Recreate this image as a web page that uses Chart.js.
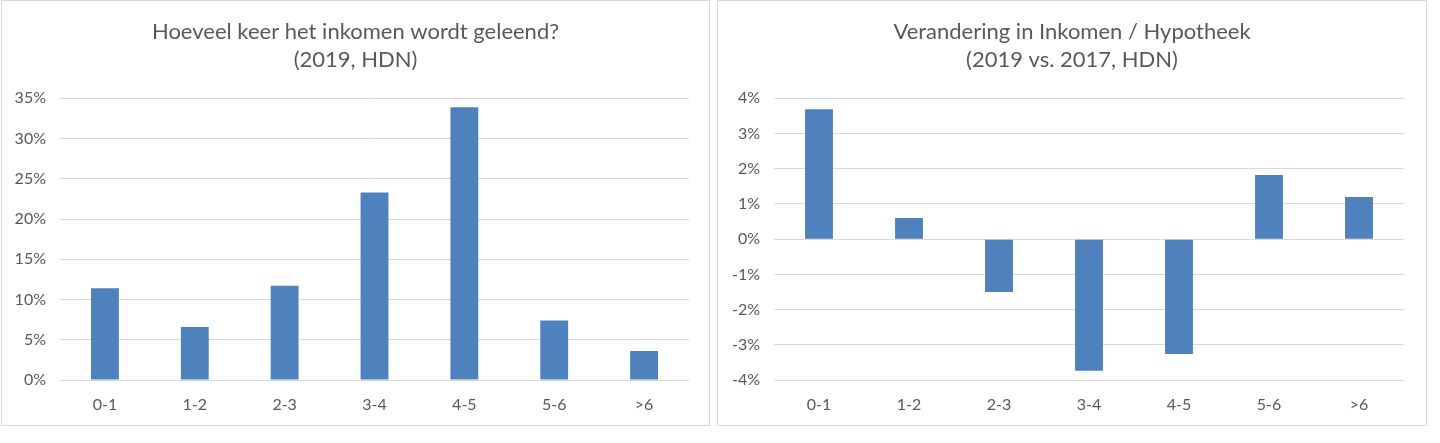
<!DOCTYPE html>
<html>
<head>
<meta charset="utf-8">
<script src="https://cdn.jsdelivr.net/npm/chart.js@4.4.1/dist/chart.umd.min.js"></script>
<style>
  body { margin: 0; background: #fff; width: 1440px; height: 443px; overflow: hidden; }
  .panel { position: absolute; top: 0; height: 424px; border: 1px solid #d9d9d9; background: #fff; }
  #p1 { left: 1px; width: 707px; }
  #p2 { left: 717px; width: 708px; }
  canvas { display: block; }
</style>
</head>
<body>
<div class="panel" id="p1"><canvas id="leenChart" width="707" height="424"></canvas></div>
<div class="panel" id="p2"><canvas id="veranderingChart" width="708" height="424"></canvas></div>
<script>
const categories = ['0-1', '1-2', '2-3', '3-4', '4-5', '5-6', '>6'];
const leenValues = [11.4, 6.6, 11.7, 23.3, 33.9, 7.4, 3.6];
const veranderingValues = [3.69, 0.6, -1.5, -3.74, -3.26, 1.82, 1.2];
const leenTicks = [0, 35, 5];
const veranderingTicks = [-4, 4, 1];

const barColor = '#4f81bd';
const textColor = '#595959';
const gridColor = '#d9d9d9';
const fontFamily = 'Lato, "Open Sans", sans-serif';

Chart.defaults.font.family = fontFamily;
Chart.defaults.color = textColor;

// side padding kept equal so the title sits in the middle of the panel,
// an empty right axis takes up the extra space next to the plot
function makeChart(id, title, values, ticks, axisWidth, rightGap, sidePad) {
  const ctx = document.getElementById(id).getContext('2d');
  return new Chart(ctx, {
    type: 'bar',
    data: {
      labels: categories,
      datasets: [{
        data: values,
        backgroundColor: barColor,
        barPercentage: 0.31,
        categoryPercentage: 1
      }]
    },
    options: {
      responsive: false,
      animation: false,
      layout: { padding: { left: sidePad, right: sidePad, top: 0, bottom: 0 } },
      plugins: {
        legend: { display: false },
        tooltip: { enabled: false },
        title: {
          display: true,
          text: title,
          color: textColor,
          font: { size: 22, weight: 'normal', lineHeight: 1.28 },
          padding: { top: 17, bottom: 24 }
        }
      },
      scales: {
        x: {
          grid: { display: false, drawTicks: false },
          border: { display: false },
          ticks: { font: { size: 16 }, padding: 15, color: textColor },
          afterFit: (scale) => { scale.height = 45; }
        },
        y: {
          min: ticks[0],
          max: ticks[1],
          grid: { color: gridColor, lineWidth: 1, drawTicks: false },
          border: { display: false },
          ticks: {
            stepSize: ticks[2],
            font: { size: 16 },
            padding: 14,
            color: textColor,
            callback: (v) => v + '%'
          },
          afterFit: (scale) => { scale.width = axisWidth; }
        },
        gap: {
          position: 'right',
          min: 0,
          max: 1,
          grid: { display: false, drawTicks: false },
          border: { display: false },
          ticks: { display: false },
          afterFit: (scale) => { scale.width = rightGap; }
        }
      }
    }
  });
}

const leenChart = makeChart('leenChart',
  ['Hoeveel keer het inkomen wordt geleend?', '(2019, HDN)'],
  leenValues, leenTicks, 47.5, 9.5, 10.5);
const veranderingChart = makeChart('veranderingChart',
  ['Verandering in Inkomen / Hypotheek', '(2019 vs. 2017, HDN)'],
  veranderingValues, veranderingTicks, 45, 11, 11);
</script>
</body>
</html>
